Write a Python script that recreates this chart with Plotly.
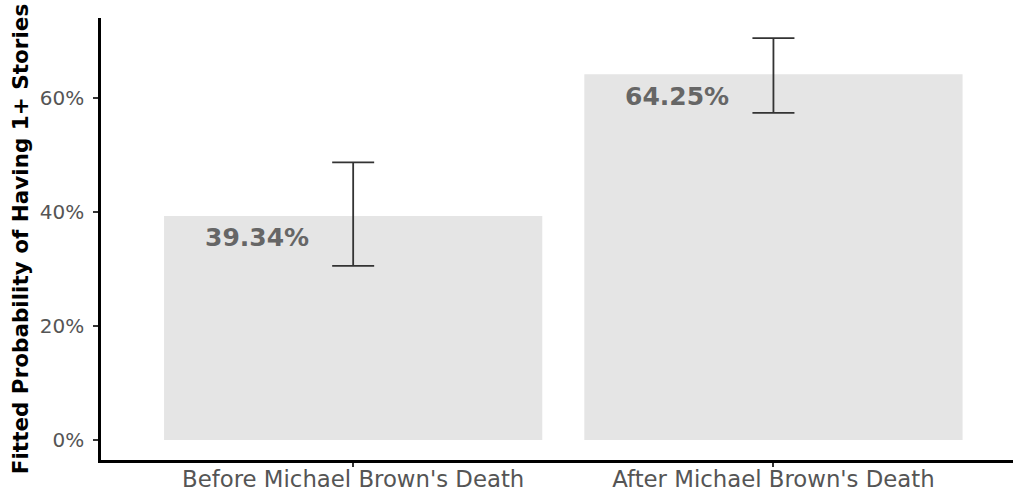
import plotly.graph_objects as go

categories = ["Before Michael Brown's Death", "After Michael Brown's Death"]
fitted = [0.3934, 0.6425]
ci_low = [0.3056, 0.5745]
ci_high = [0.4874, 0.7058]
labels = ["39.34%", "64.25%"]
y_ticks = [0, 0.2, 0.4, 0.6]
y_tick_text = ["0%", "20%", "40%", "60%"]

xpos = list(range(1, len(categories) + 1))
err_plus = [h - v for h, v in zip(ci_high, fitted)]
err_minus = [v - l for v, l in zip(fitted, ci_low)]

ymax = max(ci_high)
pad = 0.05 * ymax

fig = go.Figure()
fig.add_trace(go.Bar(
    x=xpos, y=fitted, width=0.9,
    marker=dict(color="#e5e5e5", line=dict(width=0)),
    error_y=dict(type="data", symmetric=False, array=err_plus, arrayminus=err_minus,
                 color="#333333", thickness=1.8, width=21),
    showlegend=False, hoverinfo="skip",
))

for x, v, t in zip(xpos, fitted, labels):
    fig.add_annotation(x=x - 0.23, y=v, text="<b>%s</b>" % t, showarrow=False,
                       yanchor="middle", yshift=-22,
                       font=dict(family="DejaVu Sans", size=25, color="#666666"))

fig.update_layout(
    width=1013, height=493,
    margin=dict(l=101, r=0, t=18, b=33),
    paper_bgcolor="white", plot_bgcolor="white",
    bargap=0.1,
    xaxis=dict(range=[0.4, 2.57], tickvals=xpos, ticktext=categories, automargin=False,
               showgrid=False, zeroline=False, showline=True, linecolor="black", linewidth=2.5,
               ticks="outside", ticklen=4, tickcolor="#333333", tickwidth=1.5,
               ticklabelstandoff=-7,
               tickfont=dict(family="DejaVu Sans", size=22.8, color="#555555")),
    yaxis=dict(range=[-pad, ymax + pad], tickvals=y_ticks, ticktext=y_tick_text, automargin=False,
               showgrid=False, zeroline=False, showline=True, linecolor="black", linewidth=2.5,
               ticks="outside", ticklen=5, tickcolor="#333333", tickwidth=1.5,
               ticklabelstandoff=5,
               tickfont=dict(family="DejaVu Sans", size=20, color="#555555"),
               title=dict(text="<b>Fitted Probability of Having 1+ Stories</b>", standoff=6,
                          font=dict(family="DejaVu Sans", size=21.5, color="black"))),
)

fig.write_html("out.html", config={"displayModeBar": False},
               post_script="document.body.style.margin='0';document.body.style.overflow='hidden';")
